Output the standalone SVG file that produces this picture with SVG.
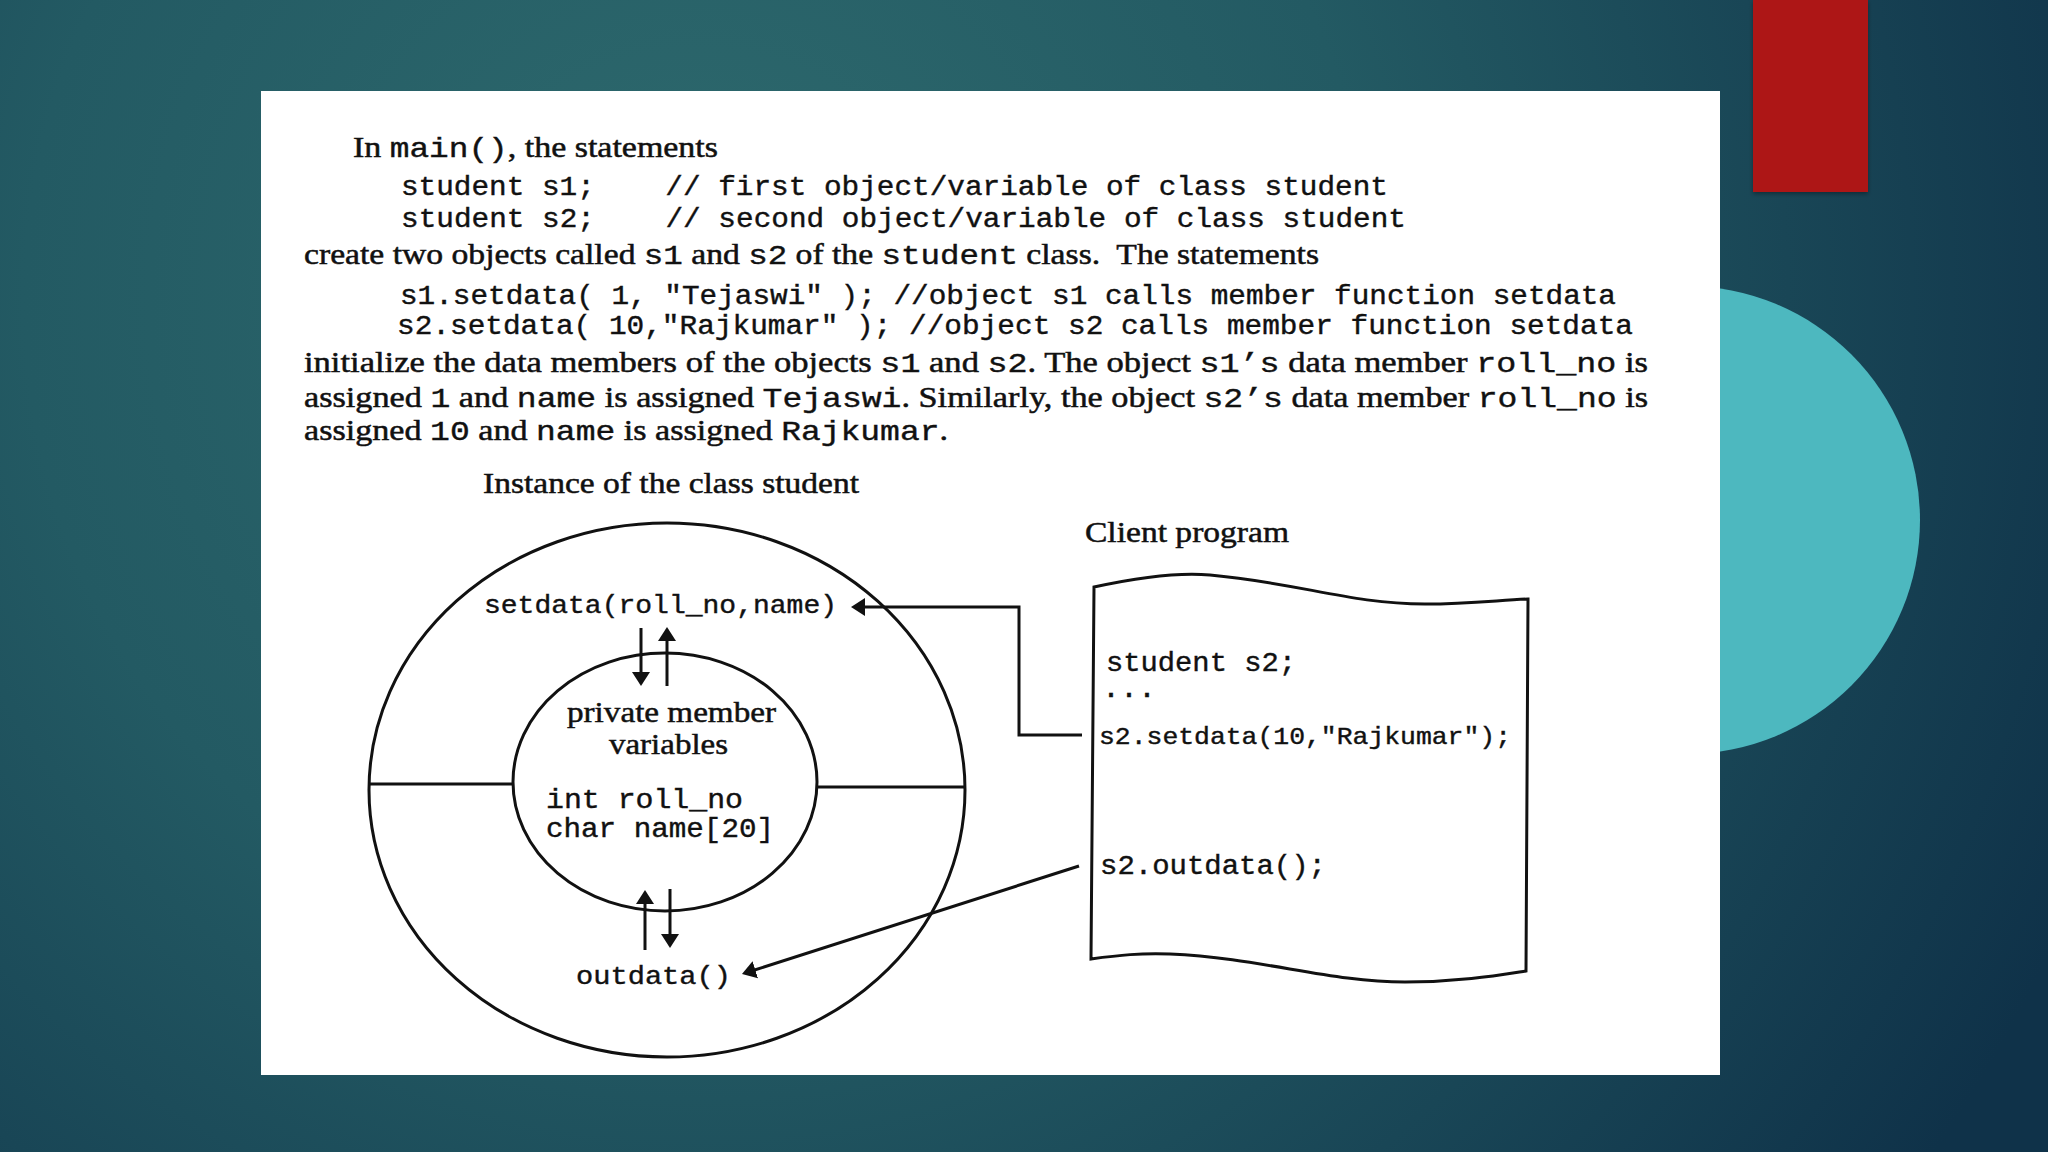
<svg xmlns="http://www.w3.org/2000/svg" width="2048" height="1152" viewBox="0 0 2048 1152">
  <defs>
    <radialGradient id="bg" cx="700" cy="300" r="1500" gradientUnits="userSpaceOnUse">
      <stop offset="0" stop-color="#2e6a6e"/>
      <stop offset="0.45" stop-color="#235a63"/>
      <stop offset="1" stop-color="#0f3249"/>
    </radialGradient>
    <filter id="sh" x="-10%" y="-10%" width="130%" height="130%">
      <feDropShadow dx="0" dy="2" stdDeviation="2" flood-color="#000" flood-opacity="0.35"/>
    </filter>
    <marker id="ah" markerWidth="14" markerHeight="18" refX="4" refY="9" orient="auto" markerUnits="userSpaceOnUse">
      <path d="M0,0 L14,9 L0,18 z" fill="#111"/>
    </marker>
    <style>
      .serif { font-family: "Liberation Serif", "Times New Roman", serif; fill: #111; stroke: #111; stroke-width: 0.5; }
      .mono { font-family: "Liberation Mono", "Courier New", monospace; fill: #111; stroke: #111; stroke-width: 0.4; }
      .body { font-size: 29px; }
      .bm { font-size: 28px; }
      .code { font-size: 27px; }
      .line { fill: none; stroke: #111; stroke-width: 3; }
      .arrow { fill: none; stroke: #111; stroke-width: 3; marker-end: url(#ah); }
    </style>
  </defs>

  <!-- slide background -->
  <rect x="0" y="0" width="2048" height="1152" fill="url(#bg)"/>
  <rect x="1753" y="0" width="115" height="192" fill="#ad1512" filter="url(#sh)"/>
  <circle cx="1686" cy="520" r="234" fill="#4db8bf"/>
  <rect x="261" y="91" width="1459" height="984" fill="#ffffff"/>

  <!-- explanatory text -->
  <g id="text-block">
    <text x="353" y="157" class="serif body" textLength="365" lengthAdjust="spacingAndGlyphs">In <tspan class="mono bm">main()</tspan>, the statements</text>
    <text x="401" y="195" class="mono code" xml:space="preserve" textLength="987" lengthAdjust="spacingAndGlyphs">student s1;    // first object/variable of class student</text>
    <text x="401" y="227" class="mono code" xml:space="preserve" textLength="1005" lengthAdjust="spacingAndGlyphs">student s2;    // second object/variable of class student</text>
    <text x="304" y="264" class="serif body" textLength="1015" lengthAdjust="spacingAndGlyphs">create two objects called <tspan class="mono bm">s1</tspan> and <tspan class="mono bm">s2</tspan> of the <tspan class="mono bm">student</tspan> class.&#160; The statements</text>
    <text x="400" y="304" class="mono code" xml:space="preserve" textLength="1216" lengthAdjust="spacingAndGlyphs">s1.setdata( 1, "Tejaswi" ); //object s1 calls member function setdata</text>
    <text x="397" y="334" class="mono code" xml:space="preserve" textLength="1236" lengthAdjust="spacingAndGlyphs">s2.setdata( 10,"Rajkumar" ); //object s2 calls member function setdata</text>
    <text x="304" y="372" class="serif body" textLength="1344" lengthAdjust="spacingAndGlyphs">initialize the data members of the objects <tspan class="mono bm">s1</tspan> and <tspan class="mono bm">s2</tspan>. The object <tspan class="mono bm">s1’s</tspan> data member <tspan class="mono bm">roll_no</tspan> is</text>
    <text x="304" y="407" class="serif body" textLength="1344" lengthAdjust="spacingAndGlyphs">assigned <tspan class="mono bm">1</tspan> and <tspan class="mono bm">name</tspan> is assigned <tspan class="mono bm">Tejaswi</tspan>. Similarly, the object <tspan class="mono bm">s2’s</tspan> data member <tspan class="mono bm">roll_no</tspan> is</text>
    <text x="304" y="440" class="serif body" textLength="644" lengthAdjust="spacingAndGlyphs">assigned <tspan class="mono bm">10</tspan> and <tspan class="mono bm">name</tspan> is assigned <tspan class="mono bm">Rajkumar</tspan>.</text>
  </g>

  <!-- object instance -->
  <g id="node-instance">
    <text x="483" y="493" class="serif" font-size="29" textLength="376" lengthAdjust="spacingAndGlyphs">Instance of the class student</text>
    <ellipse cx="667" cy="790" rx="298" ry="267" class="line"/>
    <line x1="369" y1="784" x2="513" y2="784" class="line"/>
    <line x1="817" y1="787" x2="965" y2="787" class="line"/>
  </g>

  <g id="node-setdata">
    <text x="484" y="613" class="mono" font-size="26" textLength="353" lengthAdjust="spacingAndGlyphs">setdata(roll_no,name)</text>
  </g>

  <g id="node-private">
    <ellipse cx="665" cy="782" rx="152" ry="129" class="line"/>
    <text x="567" y="722" class="serif" font-size="30" textLength="209" lengthAdjust="spacingAndGlyphs">private member</text>
    <text x="609" y="754" class="serif" font-size="30" textLength="119" lengthAdjust="spacingAndGlyphs">variables</text>
    <text x="546" y="808" class="mono" font-size="27" xml:space="preserve" textLength="197" lengthAdjust="spacingAndGlyphs">int roll_no</text>
    <text x="546" y="837" class="mono" font-size="27" xml:space="preserve" textLength="228" lengthAdjust="spacingAndGlyphs">char name[20]</text>
  </g>

  <g id="node-outdata">
    <text x="576" y="984" class="mono" font-size="26" textLength="155" lengthAdjust="spacingAndGlyphs">outdata()</text>
  </g>

  <g id="node-client">
    <text x="1085" y="542" class="serif" font-size="29" textLength="204" lengthAdjust="spacingAndGlyphs">Client program</text>
    <path d="M1094,587 C1140,577 1178,572 1210,575 C1300,583 1350,604 1425,604 C1470,604 1500,600 1528,599 L1526,971 C1500,975 1460,982 1405,982 C1330,982 1260,958 1170,954 C1140,953 1120,955 1091,959 Z" fill="#fff" class="line"/>
    <text x="1106" y="671" class="mono" font-size="27" xml:space="preserve" textLength="190" lengthAdjust="spacingAndGlyphs">student s2;</text>
    <text x="1102" y="697" class="mono" font-size="27" textLength="54" lengthAdjust="spacingAndGlyphs">...</text>
    <text x="1099" y="744" class="mono" font-size="24" textLength="412" lengthAdjust="spacingAndGlyphs">s2.setdata(10,"Rajkumar");</text>
    <text x="1100" y="874" class="mono" font-size="27" textLength="226" lengthAdjust="spacingAndGlyphs">s2.outdata();</text>
  </g>

  <g id="connectors">
    <polyline points="1082,735 1019,735 1019,607 861,607" class="arrow"/>
    <line x1="1079" y1="866" x2="751.5" y2="971" class="arrow"/>
    <line x1="641" y1="628" x2="641" y2="676" class="arrow"/>
    <line x1="667" y1="686" x2="667" y2="637" class="arrow"/>
    <line x1="645" y1="950" x2="645" y2="900" class="arrow"/>
    <line x1="670" y1="889" x2="670" y2="938" class="arrow"/>
  </g>
</svg>
